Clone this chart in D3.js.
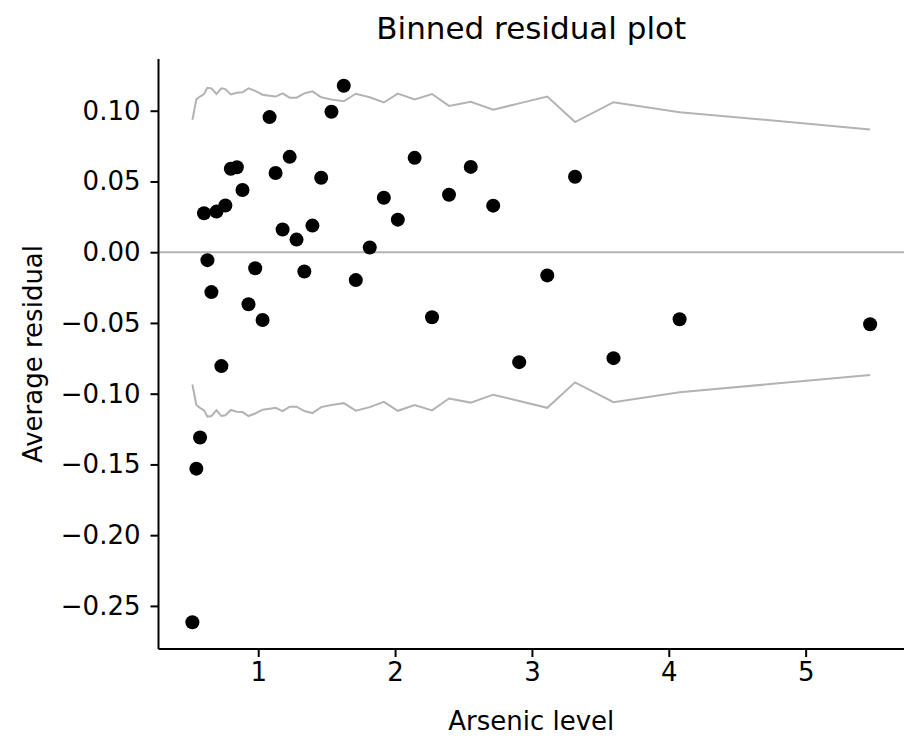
<!DOCTYPE html>
<html>
<head>
<meta charset="utf-8">
<script src="https://cdn.jsdelivr.net/npm/d3@7"></script>
<style>
  body { margin: 0; background: #fff; }
  svg text { font-family: "DejaVu Sans", sans-serif; fill: #000; }
</style>
</head>
<body>
<div id="chart"></div>
<script>
// bin means of arsenic level (sorted)
const arsenic = [0.519, 0.548, 0.575, 0.604, 0.629, 0.658, 0.695, 0.731, 0.760, 0.800,
                 0.844, 0.885, 0.929, 0.978, 1.032, 1.083, 1.127, 1.178, 1.230, 1.280,
                 1.337, 1.396, 1.460, 1.535, 1.625, 1.713, 1.815, 1.918, 2.020, 2.143,
                 2.270, 2.394, 2.553, 2.717, 2.907, 3.112, 3.315, 3.596, 4.079, 5.471];

// average residual per bin
const residual = [-0.2615, -0.153, -0.131, 0.0275, -0.0056, -0.0282, 0.0287, -0.0805, 0.033, 0.059,
                  0.060, 0.044, -0.0368, -0.0113, -0.0479, 0.0955, 0.056, 0.016, 0.0674, 0.0089,
                  -0.0136, 0.0188, 0.0526, 0.0993, 0.1176, -0.0197, 0.0033, 0.0385, 0.023, 0.0667,
                  -0.046, 0.0406, 0.0603, 0.0329, -0.0777, -0.0164, 0.0533, -0.0749, -0.0474, -0.0509];

// +/- 2 standard error band
const bandUpper = [0.0935, 0.108, 0.110, 0.1118, 0.1162, 0.1158, 0.1118, 0.1158, 0.1153, 0.1115,
                   0.1127, 0.113, 0.1158, 0.114, 0.1113, 0.1106, 0.110, 0.1123, 0.1092, 0.1092,
                   0.1123, 0.1137, 0.1095, 0.108, 0.1067, 0.112, 0.1095, 0.1058, 0.1121, 0.108,
                   0.1118, 0.1034, 0.1063, 0.1007, 0.1052, 0.110, 0.092, 0.106, 0.099, 0.0868];
const bandLower = [-0.0935, -0.108, -0.110, -0.1118, -0.1162, -0.1158, -0.1118, -0.1158, -0.1153, -0.1115,
                   -0.1127, -0.113, -0.1158, -0.114, -0.1113, -0.1106, -0.110, -0.1123, -0.1092, -0.1092,
                   -0.1123, -0.1137, -0.1095, -0.108, -0.1067, -0.112, -0.1095, -0.1058, -0.1121, -0.108,
                   -0.1118, -0.1034, -0.1063, -0.1007, -0.1052, -0.110, -0.092, -0.106, -0.099, -0.0868];

const xTicks = [1, 2, 3, 4, 5];
const yTicks = [0.10, 0.05, 0.00, -0.05, -0.10, -0.15, -0.20, -0.25];

const width = 922, height = 753;
const margin = { top: 59, right: 18, bottom: 104, left: 158.5 };
const grey = "#b3b3b3";

const svg = d3.select("#chart").append("svg")
    .attr("width", width)
    .attr("height", height);

// matplotlib style 5% padding
function padded(lo, hi) {
    const m = (hi - lo) * 0.05;
    return [lo - m, hi + m];
}
const yAll = residual.concat(bandUpper, bandLower);

const x = d3.scaleLinear()
    .domain(padded(d3.min(arsenic), d3.max(arsenic)))
    .range([margin.left, width - margin.right]);
const y = d3.scaleLinear()
    .domain(padded(d3.min(yAll), d3.max(yAll)))
    .range([height - margin.bottom, margin.top]);

const pts = arsenic.map((a, i) => ({ a, r: residual[i], up: bandUpper[i], lo: bandLower[i] }));

// zero line
svg.append("line")
    .attr("x1", x.range()[0])
    .attr("x2", x.range()[1])
    .attr("y1", y(0))
    .attr("y2", y(0))
    .style("stroke", grey)
    .style("stroke-width", 2);

// bands
const bandLine = key => d3.line().x(d => x(d.a)).y(d => y(d[key]));
["up", "lo"].forEach(k => {
    svg.append("path")
        .datum(pts)
        .attr("d", bandLine(k))
        .style("fill", "none")
        .style("stroke", grey)
        .style("stroke-width", 2);
});

// points
svg.append("g")
    .selectAll("circle")
    .data(pts)
    .join("circle")
    .attr("cx", d => x(d.a))
    .attr("cy", d => y(d.r))
    .attr("r", 7)
    .style("fill", "#000");

// axes
const xAxis = svg.append("g")
    .attr("transform", `translate(0,${height - margin.bottom})`)
    .call(d3.axisBottom(x).tickValues(xTicks).tickFormat(d3.format("d")).tickSizeOuter(0).tickSize(8).tickPadding(6));
const yAxis = svg.append("g")
    .attr("transform", `translate(${margin.left},0)`)
    .call(d3.axisLeft(y).tickValues(yTicks)
        .tickFormat(d => (d < 0 ? "\u2212" : "") + d3.format(".2f")(Math.abs(d)))
        .tickSizeOuter(0).tickSize(8).tickPadding(10));

[xAxis, yAxis].forEach(g => {
    g.select(".domain").style("stroke", "#000").style("stroke-width", 2);
    g.selectAll(".tick line").style("stroke", "#000").style("stroke-width", 2);
    g.selectAll(".tick text")
        .style("font-size", "26px")
        .style("font-family", "DejaVu Sans, sans-serif")
        .attr("fill", "#000");
});
// extend x spine to the left corner
xAxis.select(".domain").attr("d", `M${x.range()[0]},0H${x.range()[1]}`);
yAxis.select(".domain").attr("d", `M0,${y.range()[0]}V${y.range()[1]}`);

// labels
svg.append("text")
    .attr("x", (x.range()[0] + x.range()[1]) / 2)
    .attr("y", 39)
    .attr("text-anchor", "middle")
    .style("font-size", "31px")
    .text("Binned residual plot");

svg.append("text")
    .attr("x", (x.range()[0] + x.range()[1]) / 2)
    .attr("y", 730)
    .attr("text-anchor", "middle")
    .style("font-size", "26px")
    .text("Arsenic level");

svg.append("text")
    .attr("transform", `translate(42,${(y.range()[0] + y.range()[1]) / 2}) rotate(-90)`)
    .attr("text-anchor", "middle")
    .style("font-size", "26px")
    .text("Average residual");
</script>
</body>
</html>
